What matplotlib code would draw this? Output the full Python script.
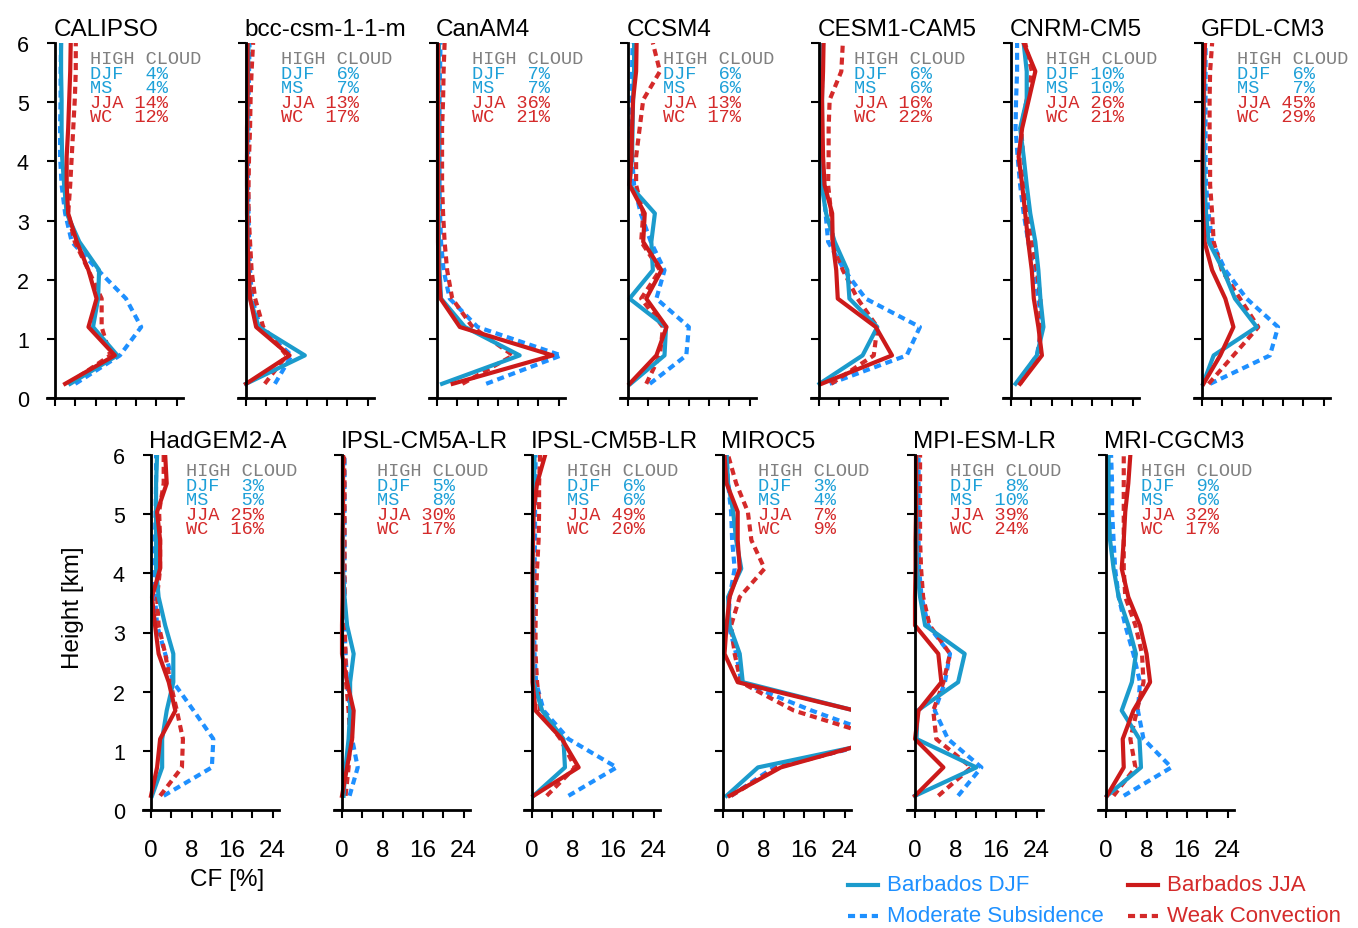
"""Low-cloud fraction profiles over Barbados: CALIPSO and CMIP5 models."""

import matplotlib

matplotlib.use("Agg")
import matplotlib.pyplot as plt
from matplotlib.lines import Line2D

plt.rcParams["font.family"] = ["Liberation Sans", "DejaVu Sans"]

COLOR_DJF = "#1b9bcc"
COLOR_MS = "#1e90ff"
COLOR_JJA = "#cc1a1a"
COLOR_WC = "#d42a2a"
COLOR_TXT_BLUE = "#1ea0d8"
COLOR_TXT_RED = "#d42a2a"
COLOR_GREY = "#808080"

HEIGHTS = [0.24, 0.72, 1.20, 1.68, 2.16, 2.64, 3.12, 3.60, 4.08, 4.56, 5.04, 5.52, 6.00]

MODELS = [
    "CALIPSO", "bcc-csm-1-1-m", "CanAM4", "CCSM4", "CESM1-CAM5", "CNRM-CM5", "GFDL-CM3",
    "HadGEM2-A", "IPSL-CM5A-LR", "IPSL-CM5B-LR", "MIROC5", "MPI-ESM-LR", "MRI-CGCM3",
]

# cloud fraction [%] at each height, per model
DJF_CF = {
    "CALIPSO": [3.0, 12.3, 7.5, 8.5, 8.7, 4.8, 2.3, 1.8, 1.4, 1.3, 1.3, 1.2, 1.2],
    "bcc-csm-1-1-m": [0.0, 11.6, 2.5, 0.8, 0.5, 0.3, 0.3, 0.2, 0.2, 0.3, 0.3, 0.4, 0.5],
    "CanAM4": [1.0, 16.3, 5.5, 0.8, 0.5, 0.4, 0.3, 0.3, 0.3, 0.3, 0.3, 0.3, 0.4],
    "CCSM4": [0.5, 7.2, 7.5, 0.3, 4.9, 4.6, 5.3, 0.3, 0.8, 0.9, 1.0, 1.2, 1.2],
    "CESM1-CAM5": [0.1, 8.6, 11.5, 6.0, 5.6, 3.1, 1.4, 0.5, 0.3, 0.6, 0.6, 0.6, 0.7],
    "CNRM-CM5": [0.9, 5.1, 6.4, 5.8, 5.4, 4.8, 3.8, 3.1, 2.5, 1.8, 3.1, 3.1, 2.5],
    "GFDL-CM3": [0.2, 2.3, 10.8, 6.5, 4.2, 1.3, 0.8, 0.5, 0.4, 0.4, 0.4, 0.5, 0.5],
    "HadGEM2-A": [0.2, 2.2, 2.2, 3.1, 4.4, 4.4, 2.8, 1.5, 1.0, 1.0, 1.0, 1.0, 1.2],
    "IPSL-CM5A-LR": [0.3, 0.7, 1.3, 1.6, 1.6, 2.3, 1.0, 0.5, 0.2, 0.2, 0.2, 0.2, 0.2],
    "IPSL-CM5B-LR": [0.3, 6.5, 6.2, 2.0, 0.3, 0.2, 0.2, 0.2, 0.2, 0.2, 0.3, 0.4, 0.5],
    "MIROC5": [0.7, 6.9, 33.5, 26.0, 3.9, 3.3, 1.3, 1.0, 3.6, 2.6, 2.0, 1.0, 0.7],
    "MPI-ESM-LR": [0.0, 12.1, 0.3, 0.5, 8.5, 9.8, 2.0, 1.0, 0.4, 0.3, 0.3, 0.3, 0.3],
    "MRI-CGCM3": [0.2, 6.9, 6.6, 3.1, 5.1, 5.9, 4.4, 2.5, 1.5, 0.8, 0.5, 0.5, 0.5],
}
MS_CF = {
    "CALIPSO": [4.0, 12.8, 17.0, 14.0, 8.5, 3.3, 2.0, 1.3, 1.0, 1.0, 1.1, 1.1, 1.2],
    "bcc-csm-1-1-m": [5.7, 9.0, 2.8, 1.2, 0.8, 0.6, 0.5, 0.4, 0.4, 0.5, 0.5, 0.6, 0.7],
    "CanAM4": [9.7, 24.5, 8.0, 2.5, 1.3, 0.8, 0.6, 0.5, 0.5, 0.5, 0.5, 0.6, 0.7],
    "CCSM4": [4.3, 11.5, 12.0, 5.6, 7.2, 4.5, 2.5, 1.2, 0.8, 0.7, 0.7, 0.8, 0.9],
    "CESM1-CAM5": [2.1, 17.3, 19.9, 9.2, 5.0, 1.8, 1.3, 0.8, 0.7, 0.5, 0.5, 0.7, 0.8],
    "CNRM-CM5": [1.2, 5.1, 6.1, 5.4, 4.5, 3.4, 2.5, 1.8, 1.3, 0.9, 1.0, 1.2, 1.2],
    "GFDL-CM3": [1.6, 13.4, 15.0, 8.8, 4.6, 2.0, 1.3, 0.8, 0.7, 0.7, 0.7, 0.7, 0.7],
    "HadGEM2-A": [2.5, 12.0, 12.3, 8.4, 4.4, 2.8, 1.2, 0.8, 0.7, 0.8, 0.9, 1.0, 1.0],
    "IPSL-CM5A-LR": [1.5, 3.1, 2.0, 1.6, 1.0, 0.7, 0.5, 0.5, 0.5, 0.5, 0.5, 0.5, 0.5],
    "IPSL-CM5B-LR": [7.2, 16.7, 7.2, 2.3, 0.8, 0.5, 0.4, 0.4, 0.5, 0.6, 0.6, 0.7, 0.7],
    "MIROC5": [1.6, 10.0, 33.0, 17.5, 3.6, 2.6, 1.1, 1.3, 2.3, 1.8, 1.6, 1.0, 0.7],
    "MPI-ESM-LR": [8.5, 13.1, 6.5, 3.9, 5.9, 6.9, 2.6, 1.3, 0.8, 0.7, 0.7, 0.7, 0.7],
    "MRI-CGCM3": [3.5, 12.9, 7.4, 6.3, 6.7, 5.4, 3.8, 2.5, 1.8, 1.5, 1.2, 1.2, 1.0],
}
JJA_CF = {
    "CALIPSO": [2.0, 11.8, 6.6, 8.2, 6.6, 4.3, 2.6, 2.3, 2.3, 2.6, 2.8, 3.0, 3.1],
    "bcc-csm-1-1-m": [0.0, 8.6, 2.0, 0.8, 0.5, 0.3, 0.2, 0.2, 0.2, 0.2, 0.3, 0.3, 0.3],
    "CanAM4": [3.1, 22.8, 4.5, 0.7, 0.3, 0.2, 0.2, 0.2, 0.2, 0.2, 0.2, 0.2, 0.2],
    "CCSM4": [0.3, 5.6, 7.6, 3.6, 6.6, 3.0, 3.3, 0.3, 0.7, 0.8, 1.0, 1.6, 1.7],
    "CESM1-CAM5": [0.5, 14.4, 11.2, 3.7, 3.4, 2.7, 2.6, 1.1, 0.8, 0.7, 0.6, 0.8, 0.9],
    "CNRM-CM5": [1.8, 6.1, 5.4, 4.5, 4.1, 3.4, 2.8, 2.2, 1.5, 2.2, 3.5, 4.8, 2.5],
    "GFDL-CM3": [0.3, 3.6, 6.2, 4.6, 2.0, 0.5, 0.2, 0.1, 0.1, 0.2, 0.3, 0.4, 0.6],
    "HadGEM2-A": [0.0, 1.2, 1.8, 4.8, 3.5, 1.5, 0.8, 0.2, 1.8, 1.8, 1.2, 3.1, 2.8],
    "IPSL-CM5A-LR": [0.0, 1.0, 2.0, 2.3, 1.0, 0.0, 0.0, 0.1, 0.1, 0.1, 0.2, 0.2, 0.2],
    "IPSL-CM5B-LR": [0.3, 9.2, 5.9, 0.7, 0.1, 0.1, 0.1, 0.1, 0.1, 0.2, 0.3, 1.0, 2.6],
    "MIROC5": [1.3, 11.4, 31.5, 26.0, 2.9, 0.3, 0.7, 1.3, 3.3, 2.9, 2.9, 0.7, 0.3],
    "MPI-ESM-LR": [0.0, 5.6, 0.0, 0.7, 5.2, 4.6, 0.0, 0.0, 0.1, 0.1, 0.2, 0.2, 0.2],
    "MRI-CGCM3": [0.2, 3.5, 3.3, 5.4, 8.7, 8.0, 6.7, 4.4, 3.1, 3.5, 3.8, 4.4, 4.8],
}
WC_CF = {
    "CALIPSO": [2.6, 10.9, 9.2, 9.2, 6.6, 3.9, 2.6, 3.0, 3.3, 3.6, 3.9, 4.1, 4.1],
    "bcc-csm-1-1-m": [3.7, 8.0, 3.4, 1.8, 1.1, 0.8, 0.5, 0.5, 0.6, 0.8, 0.9, 1.1, 1.4],
    "CanAM4": [5.0, 15.0, 7.0, 3.0, 2.0, 1.5, 1.2, 1.0, 1.0, 1.0, 1.2, 1.3, 1.5],
    "CCSM4": [3.6, 6.3, 6.9, 2.6, 6.3, 2.6, 3.0, 1.6, 1.6, 2.3, 3.0, 6.3, 4.9],
    "CESM1-CAM5": [2.4, 10.8, 11.5, 7.6, 4.7, 2.7, 2.4, 1.8, 1.9, 1.9, 2.1, 4.4, 4.7],
    "CNRM-CM5": [1.8, 5.4, 5.8, 5.8, 5.1, 4.1, 3.5, 2.8, 2.4, 2.0, 3.1, 4.1, 2.8],
    "GFDL-CM3": [1.3, 6.2, 11.1, 7.5, 3.9, 2.3, 2.0, 1.6, 1.6, 1.5, 1.5, 1.6, 2.0],
    "HadGEM2-A": [1.8, 6.1, 6.3, 5.1, 3.8, 2.8, 1.5, 1.2, 1.8, 1.8, 1.6, 2.5, 2.5],
    "IPSL-CM5A-LR": [0.7, 1.3, 1.6, 1.3, 0.8, 0.7, 0.5, 0.5, 0.5, 0.5, 0.5, 0.5, 0.4],
    "IPSL-CM5B-LR": [2.9, 8.5, 5.6, 1.6, 1.0, 0.7, 0.7, 0.8, 1.0, 1.3, 1.4, 1.4, 1.6],
    "MIROC5": [1.6, 10.8, 32.0, 14.0, 3.5, 2.3, 1.6, 3.3, 8.2, 5.6, 4.9, 2.6, 1.0],
    "MPI-ESM-LR": [4.6, 11.1, 4.2, 3.6, 5.6, 6.9, 2.9, 1.6, 1.2, 1.0, 1.0, 1.0, 1.0],
    "MRI-CGCM3": [1.5, 5.8, 4.8, 6.1, 7.4, 7.1, 5.8, 3.8, 3.5, 3.5, 3.5, 3.5, 3.5],
}

# high cloud fraction [%] printed in each panel, in MODELS order
HIGH_DJF = [4, 6, 7, 6, 6, 10, 6, 3, 5, 6, 3, 8, 9]
HIGH_MS = [4, 7, 7, 6, 6, 10, 7, 5, 8, 6, 4, 10, 6]
HIGH_JJA = [14, 13, 36, 13, 16, 26, 45, 25, 30, 49, 7, 39, 32]
HIGH_WC = [12, 17, 21, 17, 22, 21, 29, 16, 17, 20, 9, 24, 17]

X_TICKS = [0, 4, 8, 12, 16, 20, 24]
X_LABELS = ["0", "", "8", "", "16", "", "24"]
Y_TICKS = [0, 1, 2, 3, 4, 5, 6]

W, H = 1358, 929
PX_PER_CF = 5.07
XMIN, XMAX = -1.6, 25.2
TOP_X0 = [55, 246, 437, 628, 819, 1011, 1202]
BOT_X0 = [151, 342, 532, 723, 915, 1106]
ROWS = [(399, 44), (811, 456)]  # pixel y of 0 km and 6 km

DASH = (0, (1.7, 1.15))


def make_axes(fig, x0, y_bottom, y_top):
    left = (x0 + XMIN * PX_PER_CF) / W
    width = (XMAX - XMIN) * PX_PER_CF / W
    bottom = (H - y_bottom) / H
    height = (y_bottom - y_top) / H
    return fig.add_axes([left, bottom, width, height])


def style_axes(ax, show_y, show_x):
    ax.set_xlim(XMIN, XMAX)
    ax.set_ylim(0, 6)
    for side in ("top", "right"):
        ax.spines[side].set_visible(False)
    ax.spines["left"].set_position(("data", 0))
    ax.spines["left"].set_linewidth(2.0)
    ax.spines["bottom"].set_linewidth(2.0)
    ax.set_xticks(X_TICKS)
    ax.set_xticklabels(X_LABELS if show_x else [])
    ax.set_yticks(Y_TICKS)
    ax.set_yticklabels([str(t) for t in Y_TICKS] if show_y else [])
    ax.tick_params(axis="both", direction="out", length=5.8, width=1.5)
    ax.tick_params(axis="x", labelsize=17.5, pad=15)
    ax.tick_params(axis="y", labelsize=15.5, pad=13)
    ax.patch.set_alpha(0)


def annotate(ax, idx):
    rows = [
        ("HIGH CLOUD", COLOR_GREY),
        (f"{'DJF':<4}{HIGH_DJF[idx]:>2}%", COLOR_TXT_BLUE),
        (f"{'MS':<4}{HIGH_MS[idx]:>2}%", COLOR_TXT_BLUE),
        (f"{'JJA':<4}{HIGH_JJA[idx]:>2}%", COLOR_TXT_RED),
        (f"{'WC':<4}{HIGH_WC[idx]:>2}%", COLOR_TXT_RED),
    ]
    for k, (txt, col) in enumerate(rows):
        ax.text(6.9, 5.73 - 0.245 * k, txt, ha="left", va="center", fontsize=13.4,
                family="Liberation Mono", color=col)


def main():
    fig = plt.figure(figsize=(W / 100, H / 100), dpi=100)
    positions = [(x0, *ROWS[0]) for x0 in TOP_X0] + [(x0, *ROWS[1]) for x0 in BOT_X0]

    for idx, (name, (x0, yb, yt)) in enumerate(zip(MODELS, positions)):
        ax = make_axes(fig, x0, yb, yt)
        first_in_row = idx in (0, 7)
        style_axes(ax, show_y=first_in_row, show_x=idx >= 7)

        ax.plot(MS_CF[name], HEIGHTS, color=COLOR_MS, lw=3.0, linestyle=DASH)
        ax.plot(WC_CF[name], HEIGHTS, color=COLOR_WC, lw=3.0, linestyle=DASH)
        ax.plot(DJF_CF[name], HEIGHTS, color=COLOR_DJF, lw=3.0)
        ax.plot(JJA_CF[name], HEIGHTS, color=COLOR_JJA, lw=3.0)

        ax.text(-0.3, 6.14, name, ha="left", va="baseline", fontsize=17.5, clip_on=False)
        annotate(ax, idx)

        if idx == 7:
            ax.set_ylabel("Height [km]", fontsize=17.5)
            ax.yaxis.set_label_coords(-0.43, 0.572)
            ax.set_xlabel("CF [%]", fontsize=17.5)
            ax.xaxis.set_label_coords(0.62, -0.162)

    # legend
    entries = [
        (848, 886, COLOR_DJF, "-", "Barbados DJF", COLOR_MS),
        (848, 917, COLOR_MS, DASH, "Moderate Subsidence", COLOR_MS),
        (1128, 886, COLOR_JJA, "-", "Barbados JJA", COLOR_TXT_RED),
        (1128, 917, COLOR_WC, DASH, "Weak Convection", COLOR_TXT_RED),
    ]
    for x, y, lc, ls, label, tc in entries:
        fy = (H - y) / H
        fig.add_artist(Line2D([x / W, (x + 30) / W], [fy, fy], color=lc, lw=3.0,
                              linestyle=ls, transform=fig.transFigure))
        fig.text((x + 39) / W, fy, label, ha="left", va="center", fontsize=16, color=tc)

    fig.savefig("out.png", dpi=100, facecolor="white")


if __name__ == "__main__":
    main()
